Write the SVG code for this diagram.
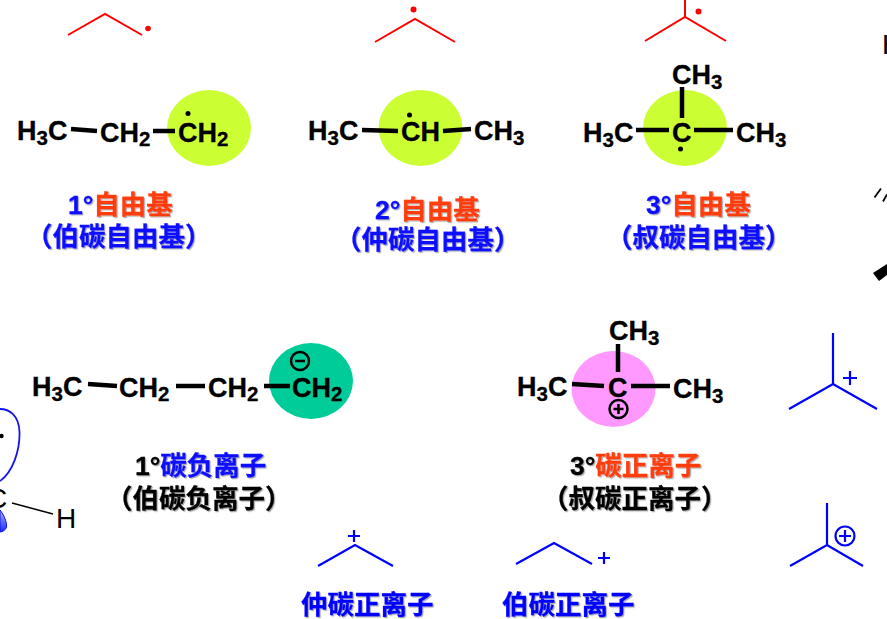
<svg xmlns="http://www.w3.org/2000/svg" width="887" height="619" viewBox="0 0 887 619">
<defs>
<filter id="sh" x="-10%" y="-20%" width="120%" height="150%"><feDropShadow dx="1.2" dy="1.2" stdDeviation="0.7" flood-color="#000" flood-opacity="0.35"/></filter>
<linearGradient id="lobe" x1="0" y1="0" x2="0" y2="1"><stop offset="0" stop-color="#aab4ff"/><stop offset="1" stop-color="#1a2cf0"/></linearGradient>
</defs>
<style>
text{font-family:"Liberation Sans","Noto Sans CJK SC",sans-serif}
.f{font-weight:700;font-size:27px;fill:#000;stroke:#000;stroke-width:.3}
.s{font-size:20.500px}
.t{font-size:28px;fill:#000}
.l{font-weight:700;font-size:26.500px;stroke-width:.3;filter:url(#sh)}
.b{fill:#1010ff;stroke:#1010ff}.o{fill:#ff3c10;stroke:#ff3c10}.k{fill:#000;stroke:#000}
.bond{stroke:#000;stroke-width:4.500;fill:none}
.red{stroke:#ff0000;stroke-width:2;fill:none}
.blue{stroke:#0000ff;stroke-width:2.200;fill:none}
</style>
<rect width="887" height="619" fill="#fff"/>

<g id="skeleton-red-1"><polyline class="red" points="68,35 105,14 142,35"/><circle cx="148" cy="28.500" r="2.800" fill="#f00"/></g>
<g id="skeleton-red-2"><polyline class="red" points="375,42 415,19 455,42"/><circle cx="413.500" cy="9.500" r="3" fill="#f00"/></g>
<g id="skeleton-red-3"><polyline class="red" points="645,41 685,17 726,41"/><line class="red" x1="685" y1="0" x2="685" y2="17"/><circle cx="698.500" cy="11.500" r="3" fill="#f00"/></g>

<g id="radical-1">
<ellipse cx="209" cy="128" rx="42" ry="38" fill="#ccff33"/>
<circle cx="188" cy="113.500" r="2.500" fill="#000"/>
<text class="f" x="17" y="140">H<tspan class="s" dy="5">3</tspan><tspan dy="-5">C</tspan></text>
<text class="f" x="100" y="142">CH<tspan class="s" dy="4">2</tspan></text>
<text class="f" x="178" y="142">CH<tspan class="s" dy="4">2</tspan></text>
</g>
<g id="radical-2">
<ellipse cx="420.500" cy="128" rx="42" ry="38" fill="#ccff33"/>
<circle cx="409.500" cy="115" r="2.500" fill="#000"/>
<text class="f" x="308" y="140">H<tspan class="s" dy="5">3</tspan><tspan dy="-5">C</tspan></text>
<text class="f" x="401" y="141">CH</text>
<text class="f" x="474" y="140">CH<tspan class="s" dy="5">3</tspan></text>
</g>
<g id="radical-3">
<ellipse cx="685" cy="128" rx="42" ry="38" fill="#ccff33"/>
<circle cx="680.500" cy="149" r="2.500" fill="#000"/>
<text class="f" x="672" y="84">CH<tspan class="s" dy="5">3</tspan></text>
<text class="f" x="583" y="142">H<tspan class="s" dy="5">3</tspan><tspan dy="-5">C</tspan></text>
<text class="f" x="672" y="142">C</text>
<text class="f" x="736" y="142">CH<tspan class="s" dy="5">3</tspan></text>
</g>
<g id="anion">
<ellipse cx="311" cy="381" rx="42" ry="38" fill="#00cc99"/>
<circle cx="300" cy="361" r="9" fill="none" stroke="#000" stroke-width="2.500"/><line x1="295" y1="361" x2="305" y2="361" stroke="#000" stroke-width="2.500"/>
<text class="f" x="32" y="396">H<tspan class="s" dy="5">3</tspan><tspan dy="-5">C</tspan></text>
<text class="f" x="119" y="397">CH<tspan class="s" dy="4">2</tspan></text>
<text class="f" x="208" y="397">CH<tspan class="s" dy="4">2</tspan></text>
<text class="f" x="292" y="397">CH<tspan class="s" dy="4">2</tspan></text>
</g>
<g id="cation">
<ellipse cx="613.500" cy="389" rx="42" ry="38" fill="#ff99ff"/>
<circle cx="618.500" cy="409" r="9" fill="none" stroke="#000" stroke-width="2.500"/><path d="M613.500 409h10M618.500 404v10" stroke="#000" stroke-width="2.500"/>
<text class="f" x="609" y="340">CH<tspan class="s" dy="5">3</tspan></text>
<text class="f" x="517" y="396">H<tspan class="s" dy="5">3</tspan><tspan dy="-5">C</tspan></text>
<text class="f" x="608" y="397">C</text>
<text class="f" x="673" y="398">CH<tspan class="s" dy="5">3</tspan></text>
</g>

<g id="connectors">
<line class="bond" x1="71" y1="129" x2="97" y2="131"/>
<line class="bond" x1="153" y1="131" x2="175" y2="131"/>
<line class="bond" x1="362" y1="130" x2="398" y2="131"/>
<line class="bond" x1="443" y1="131" x2="471" y2="129"/>
<line class="bond" x1="682" y1="87" x2="682" y2="118"/>
<line class="bond" x1="636" y1="130" x2="669" y2="130"/>
<line class="bond" x1="694" y1="130" x2="733" y2="130"/>
<line class="bond" x1="88" y1="384" x2="117" y2="386"/>
<line class="bond" x1="176" y1="386" x2="205" y2="386"/>
<line class="bond" x1="264" y1="386" x2="290" y2="386"/>
<line class="bond" x1="618" y1="344" x2="618" y2="372"/>
<line class="bond" x1="572" y1="384" x2="604" y2="386"/>
<line class="bond" x1="631" y1="386" x2="670" y2="386"/>
<line x1="12" y1="503" x2="53" y2="514" stroke="#000" stroke-width="1.500"/>
</g>

<g id="orbital">
<path d="M0 409C9 409 19 415 19.500 432C20 450 13 472 0 481" fill="none" stroke="#1414f0" stroke-width="1.800"/>
<path d="M0 510C4 515 7 522 6.500 527C6 530 2 532 0 532Z" fill="url(#lobe)" stroke="#1414f0" stroke-width="1"/>
<circle cx="1.500" cy="436" r="2.200" fill="#000"/>
<text class="t" x="-13" y="508">C</text>
<text class="t" x="56" y="528">H</text>
</g>
<g id="edge-right">
<text class="t" x="882" y="54">H</text>
<path d="M874.500 197.500L881 188.500M883 201.500L887 194.500" stroke="#000" stroke-width="1.800" fill="none"/>
<polygon points="873,273 887,264 887,275 879,281" fill="#000"/>
</g>

<g id="label-radical-1"><text class="l" x="68" y="214"><tspan class="b">1°</tspan><tspan class="o">自由基</tspan></text><text class="l b" x="26" y="246">（伯碳自由基）</text></g>
<g id="label-radical-2"><text class="l" x="375" y="219"><tspan class="b">2°</tspan><tspan class="o">自由基</tspan></text><text class="l b" x="335" y="249">（仲碳自由基）</text></g>
<g id="label-radical-3"><text class="l" x="646" y="214"><tspan class="b">3°</tspan><tspan class="o">自由基</tspan></text><text class="l b" x="606" y="247">（叔碳自由基）</text></g>
<g id="label-anion"><text class="l" x="135" y="475"><tspan class="k">1°</tspan><tspan class="b">碳负离子</tspan></text><text class="l k" x="106" y="508">（伯碳负离子）</text></g>
<g id="label-cation"><text class="l" x="570" y="475"><tspan class="k">3°</tspan><tspan class="o">碳正离子</tspan></text><text class="l k" x="542" y="508">（叔碳正离子）</text></g>

<g id="skeleton-blue-3"><polyline class="blue" points="789,409 833,384 877,409"/><line class="blue" x1="833" y1="333" x2="833" y2="384"/><path class="blue" d="M843 378h14M850 371v14"/></g>
<g id="skeleton-blue-3b"><polyline class="blue" points="790,566 827,545 863,566"/><line class="blue" x1="827" y1="503" x2="827" y2="545"/><circle class="blue" cx="845" cy="536" r="9.500" stroke-width="1.500"/><path class="blue" d="M839 536h12M845 530v12"/></g>
<g id="skeleton-blue-2"><polyline class="blue" points="318,566 355,545 393,566"/><path class="blue" d="M348 536h12M354 530v12"/></g>
<g id="skeleton-blue-1"><polyline class="blue" points="516,564 554,543 592,564"/><path class="blue" d="M598 558h12M604 552v12"/></g>
<g id="label-sec"><text class="l" x="301" y="614" fill="#0000ff" stroke="#0000ff">仲碳正离子</text></g>
<g id="label-pri"><text class="l" x="502" y="614" fill="#0000ff" stroke="#0000ff">伯碳正离子</text></g>
</svg>
